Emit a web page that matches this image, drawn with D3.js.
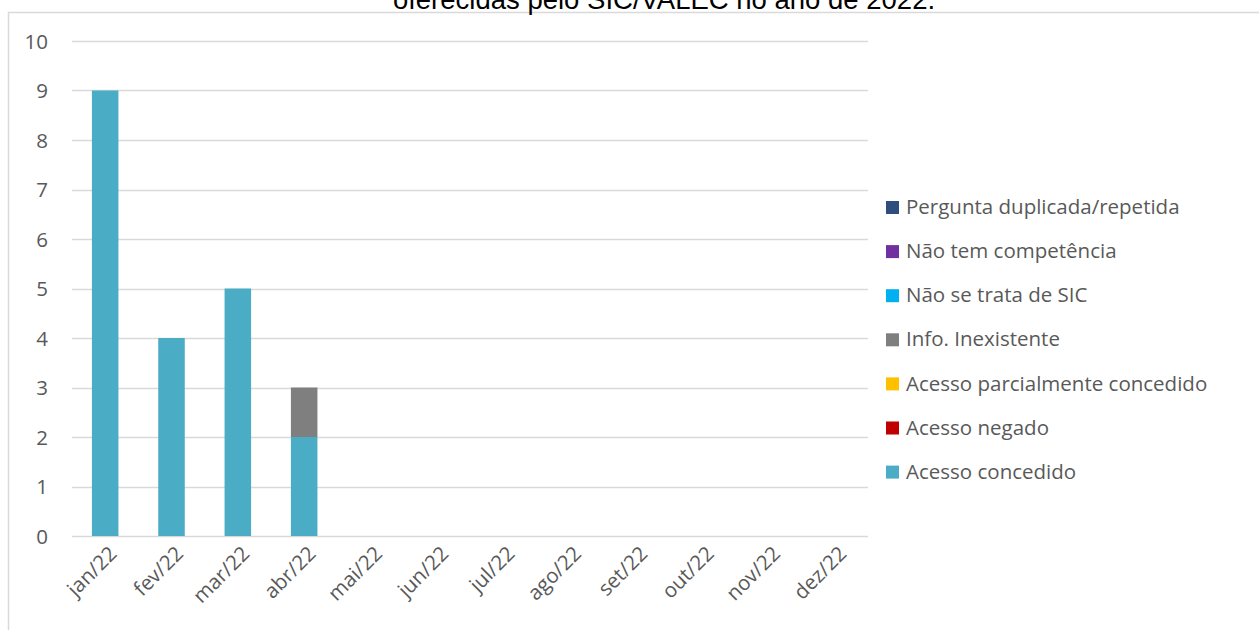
<!DOCTYPE html>
<html>
<head>
<meta charset="utf-8">
<script src="https://cdn.jsdelivr.net/npm/d3@7"></script>
<style>
  html, body { margin: 0; padding: 0; background: #fff; }
  svg { display: block; }
</style>
</head>
<body>
<svg id="chart" width="1259" height="630"></svg>
<script>
// Monthly answers of the SIC/VALEC service in 2022, stacked by answer type
const months = ["jan/22","fev/22","mar/22","abr/22","mai/22","jun/22","jul/22","ago/22","set/22","out/22","nov/22","dez/22"];
const seriesNames = ["Acesso concedido","Acesso negado","Acesso parcialmente concedido","Info. Inexistente","Não se trata de SIC","Não tem competência","Pergunta duplicada/repetida"];
const seriesColors = ["#4BACC6","#C00000","#FFC000","#7F7F7F","#00B0F0","#7030A0","#2E4E7E"];
const acessoConcedido   = [9,4,5,2,0,0,0,0,0,0,0,0];
const acessoNegado      = [0,0,0,0,0,0,0,0,0,0,0,0];
const acessoParcial     = [0,0,0,0,0,0,0,0,0,0,0,0];
const infoInexistente   = [0,0,0,1,0,0,0,0,0,0,0,0];
const naoSeTrataSIC     = [0,0,0,0,0,0,0,0,0,0,0,0];
const naoTemCompetencia = [0,0,0,0,0,0,0,0,0,0,0,0];
const perguntaDuplicada = [0,0,0,0,0,0,0,0,0,0,0,0];
const yTicks = [0,1,2,3,4,5,6,7,8,9,10];
const titleText = "oferecidas pelo SIC/VALEC no ano de 2022.";

const seriesValues = [acessoConcedido, acessoNegado, acessoParcial, infoInexistente, naoSeTrataSIC, naoTemCompetencia, perguntaDuplicada];
const table = months.map((m, i) => {
  const row = { month: m };
  seriesNames.forEach((s, k) => row[s] = seriesValues[k][i]);
  return row;
});

const svg = d3.select("#chart");
const W = 1259, H = 630;
const labelFont = "'Open Sans', 'Noto Sans', sans-serif";
const textColor = "#595959";
const labelSize = 20.5;

// Chart area frame
svg.append("rect")
  .attr("x", 8.5).attr("y", 12.5)
  .attr("width", W + 10).attr("height", H + 10)
  .attr("fill", "#fff").attr("stroke", "#D9D9D9").attr("stroke-width", 1.5);

// Title (runs above the frame)
svg.append("text")
  .attr("x", 664).attr("y", 9)
  .attr("text-anchor", "middle")
  .attr("font-family", "'Liberation Sans', Arial, sans-serif")
  .attr("font-size", 27.5)
  .attr("fill", "#000")
  .text(titleText);

const plot = { left: 72, right: 868, top: 41, bottom: 536 };

const x = d3.scaleBand().domain(months)
  .range([plot.left, plot.right])
  .paddingInner(0.6).paddingOuter(0.3);
const y = d3.scaleLinear().domain([0, 10]).range([plot.bottom, plot.top]);

// Gridlines
svg.append("g").selectAll("line").data(yTicks).join("line")
  .attr("x1", plot.left).attr("x2", plot.right)
  .attr("y1", d => Math.round(y(d)) + 0.5).attr("y2", d => Math.round(y(d)) + 0.5)
  .attr("stroke", "#D9D9D9").attr("stroke-width", 1.5);

// Y axis labels
const yAxis = svg.append("g")
  .attr("transform", `translate(${plot.left - 24},0)`)
  .call(d3.axisLeft(y).tickValues(yTicks).tickSize(0).tickPadding(0).tickFormat(d3.format("d")));
yAxis.select(".domain").remove();
yAxis.selectAll("text")
  .attr("font-family", labelFont).attr("font-size", labelSize).attr("fill", textColor)
  .attr("dy", "0.35em");

// Stacked bars
const stack = d3.stack().keys(seriesNames)(table);
const color = d3.scaleOrdinal().domain(seriesNames).range(seriesColors);
svg.append("g").selectAll("g").data(stack).join("g")
  .attr("fill", d => color(d.key))
  .selectAll("rect").data(d => d).join("rect")
  .attr("x", d => x(d.data.month))
  .attr("width", x.bandwidth())
  .attr("y", d => y(d[1]))
  .attr("height", d => y(d[0]) - y(d[1]));

// X axis labels rotated
const xAxis = svg.append("g")
  .attr("transform", `translate(0,${plot.bottom})`)
  .call(d3.axisBottom(x).tickSize(0).tickPadding(0));
xAxis.select(".domain").remove();
xAxis.selectAll("text")
  .attr("font-family", labelFont).attr("font-size", labelSize).attr("fill", textColor)
  .attr("text-anchor", "end")
  .attr("dy", null)
  .attr("transform", "translate(13,19) rotate(-45)");

// Legend, listed top-down in reverse stacking order
const legendItems = seriesNames.slice().reverse();
const legend = svg.append("g").selectAll("g").data(legendItems).join("g")
  .attr("transform", (d, i) => `translate(886,${207 + i * 44.1})`);
legend.append("rect")
  .attr("x", 0).attr("y", -6).attr("width", 13).attr("height", 13)
  .attr("fill", d => color(d));
legend.append("text")
  .attr("x", 20).attr("y", 0).attr("dy", "0.35em")
  .attr("font-family", labelFont).attr("font-size", labelSize).attr("fill", textColor)
  .text(d => d);
</script>
</body>
</html>
